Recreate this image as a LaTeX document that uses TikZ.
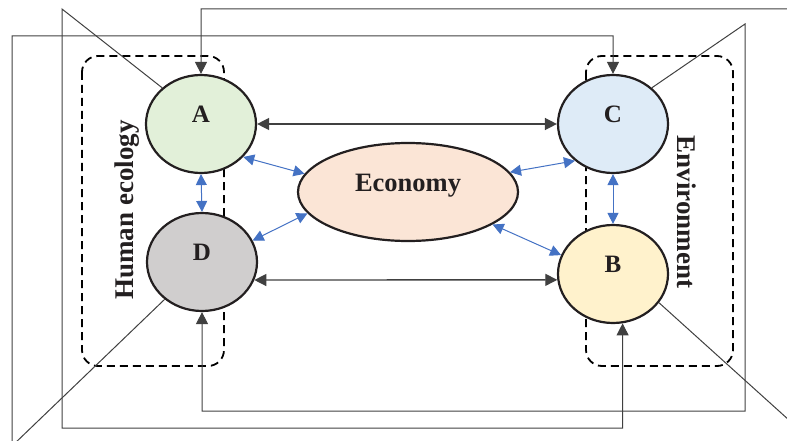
\documentclass[tikz,border=0pt]{standalone}
\usepackage{fontspec}
\setmainfont{Liberation Serif}
\usetikzlibrary{shapes.geometric,arrows.meta}

\definecolor{outl}{HTML}{231F20}
\definecolor{fillA}{HTML}{E2F0D9}
\definecolor{fillB}{HTML}{FFF2CC}
\definecolor{fillC}{HTML}{DEEBF7}
\definecolor{fillD}{HTML}{D0CECE}
\definecolor{fillE}{HTML}{FBE5D6}
\definecolor{linkblue}{HTML}{4472C4}

\tikzset{
   blob/.style={ellipse, draw=outl, line width=2.2pt, inner sep=0pt,
      minimum width=110pt, minimum height=98pt,
      font=\fontsize{25}{27}\selectfont\bfseries, text=outl,
      text height=16pt, text depth=19.5pt},
   bigblob/.style={blob, minimum width=220pt, minimum height=98pt,
      font=\fontsize{26.5}{28}\selectfont\bfseries,
      text height=18pt, text depth=18.5pt},
   lbl/.style={font=\fontsize{27}{29}\selectfont\bfseries, text=outl, inner sep=0pt},
   dashbox/.style={draw=black, line width=1.8pt, dash pattern=on 8pt off 5pt,
      rounded corners=16pt},
   fbline/.style={draw=black!75, line width=1pt},
   fbarrow/.style={fbline, -{Triangle[length=12pt,width=12pt]}},
   duallink/.style={draw=black!75, line width=1.4pt,
      {Triangle[length=12pt,width=12pt]}-{Triangle[length=12pt,width=12pt]}},
   bluelink/.style={draw=linkblue, line width=1pt,
      {Triangle[length=11pt,width=11pt]}-{Triangle[length=11pt,width=11pt]}}
}

\begin{document}
\begin{tikzpicture}[x=1pt,y=-1pt]
   \useasboundingbox (0,0) rectangle (787,441);
   \clip (0,0) rectangle (787,441);

   \draw[dashbox] (82,56) rectangle (224,366);
   \draw[dashbox] (586,56) rectangle (733,366);

   \node[blob, fill=fillA] (A) at (201,124) {A};
   \node[blob, fill=fillC] (C) at (613,124) {C};
   \node[blob, fill=fillD] (D) at (202,262) {D};
   \node[blob, fill=fillB] (B) at (613,274) {B};
   \node[bigblob, fill=fillE] (E) at (408,192) {Economy};

   \node[lbl, rotate=90] (hum) at (127,210) {Human ecology};
   \node[lbl, rotate=-90] (env) at (687,212) {Environment};

   \draw[fbarrow] (A.137) -- (62,9) -- (62,428) -| (B.-79);
   \draw[fbarrow] (D.-135) -- (12,446) -- (12,36) -| (C.north);
   \draw[fbarrow] (C.43) -- (745,24) -- (745,411) -| (D.south);
   \draw[fbarrow] (B.-32) -- (800,430) -- (800,9) -| (A.north);

   \draw[duallink] (A.east) -- (C.west);
   \draw[duallink] (D.-19) -- (B.186);

   \draw[bluelink] (A.south) -- (D.north);
   \draw[bluelink] (C.south) -- (B.north);
   \draw[bluelink] (A.-38) -- (E.170);
   \draw[bluelink] (D.23) -- (E.192);
   \draw[bluelink] (C.224) -- (E.11);
   \draw[bluelink] (B.160) -- (E.-21);

\end{tikzpicture}
\end{document}
